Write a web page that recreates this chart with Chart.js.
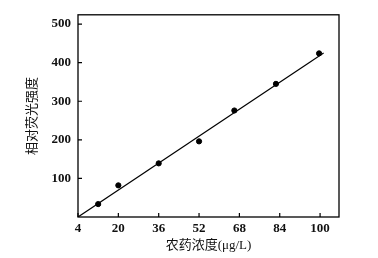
<!DOCTYPE html>
<html><head><meta charset="utf-8">
<script src="https://cdn.jsdelivr.net/npm/chart.js@4"></script>
<style>html,body{margin:0;padding:0;background:#fff}#w{width:378px;height:258px}</style>
</head><body><div id="w"><canvas id="c" width="378" height="258"></canvas></div>
<script>
const concX = [12, 20, 36, 52, 66, 82.5, 99.6];
const intensityY = [33.5, 82, 139, 196, 276, 345, 424];
const fitX = [4, 101.4];
const fitY = [0, 425];
const xTicks = [4, 20, 36, 52, 68, 84, 100];
const yTicks = [100, 200, 300, 400, 500];
const xTitle = '农药浓度(μg/L)';
const yTitle = '相对荧光强度';

const serif = "'Liberation Serif','Noto Sans CJK SC',serif";
const frame = {
  id: 'frame',
  afterDraw(chart) {
    const {ctx, chartArea: a, scales} = chart;
    ctx.save();
    ctx.strokeStyle = '#000';
    ctx.lineWidth = 1.3;
    ctx.strokeRect(a.left, a.top, a.right - a.left, a.bottom - a.top);
    ctx.lineWidth = 1.2;
    ctx.beginPath();
    xTicks.forEach(v => { const p = scales.x.getPixelForValue(v); ctx.moveTo(p, a.bottom); ctx.lineTo(p, a.bottom - 4); });
    yTicks.forEach(v => { const p = scales.y.getPixelForValue(v); ctx.moveTo(a.left, p); ctx.lineTo(a.left + 4, p); });
    ctx.stroke();
    ctx.restore();
  }
};
new Chart(document.getElementById('c'), {
  type: 'scatter',
  data: {
    datasets: [
      { data: concX.map((x, i) => ({x, y: intensityY[i]})), backgroundColor: '#000', borderColor: '#000', pointRadius: 2.6, showLine: false },
      { data: fitX.map((x, i) => ({x, y: fitY[i]})), borderColor: '#000', borderWidth: 1.2, pointRadius: 0, showLine: true, fill: false }
    ]
  },
  plugins: [frame],
  options: {
    responsive: false, animation: false,
    layout: { padding: { left: 0, right: 39, top: 7, bottom: 0 } },
    plugins: { legend: { display: false }, tooltip: { enabled: false } },
    scales: {
      x: {
        type: 'linear', min: 4, max: 107.5,
        afterBuildTicks: s => { s.ticks = xTicks.map(v => ({value: v})); },
        afterFit: s => { s.height = 41; },
        grid: { display: false, drawTicks: false },
        border: { display: false },
        ticks: { color: '#111', padding: 4, font: { family: serif, size: 13, weight: 'bold' }, maxRotation: 0 },
        title: { display: true, text: xTitle, color: '#111', padding: { top: 1, bottom: 5 }, font: { family: serif, size: 13 } }
      },
      y: {
        type: 'linear', min: 0, max: 524,
        afterBuildTicks: s => { s.ticks = yTicks.map(v => ({value: v})); },
        afterFit: s => { s.width = 78; },
        grid: { display: false, drawTicks: false },
        border: { display: false },
        ticks: { color: '#111', padding: 7, font: { family: serif, size: 13, weight: 'bold' } },
        title: { display: true, text: yTitle, color: '#111', padding: { top: 25, bottom: 0 }, font: { family: serif, size: 13 } }
      }
    }
  }
});
</script></body></html>
